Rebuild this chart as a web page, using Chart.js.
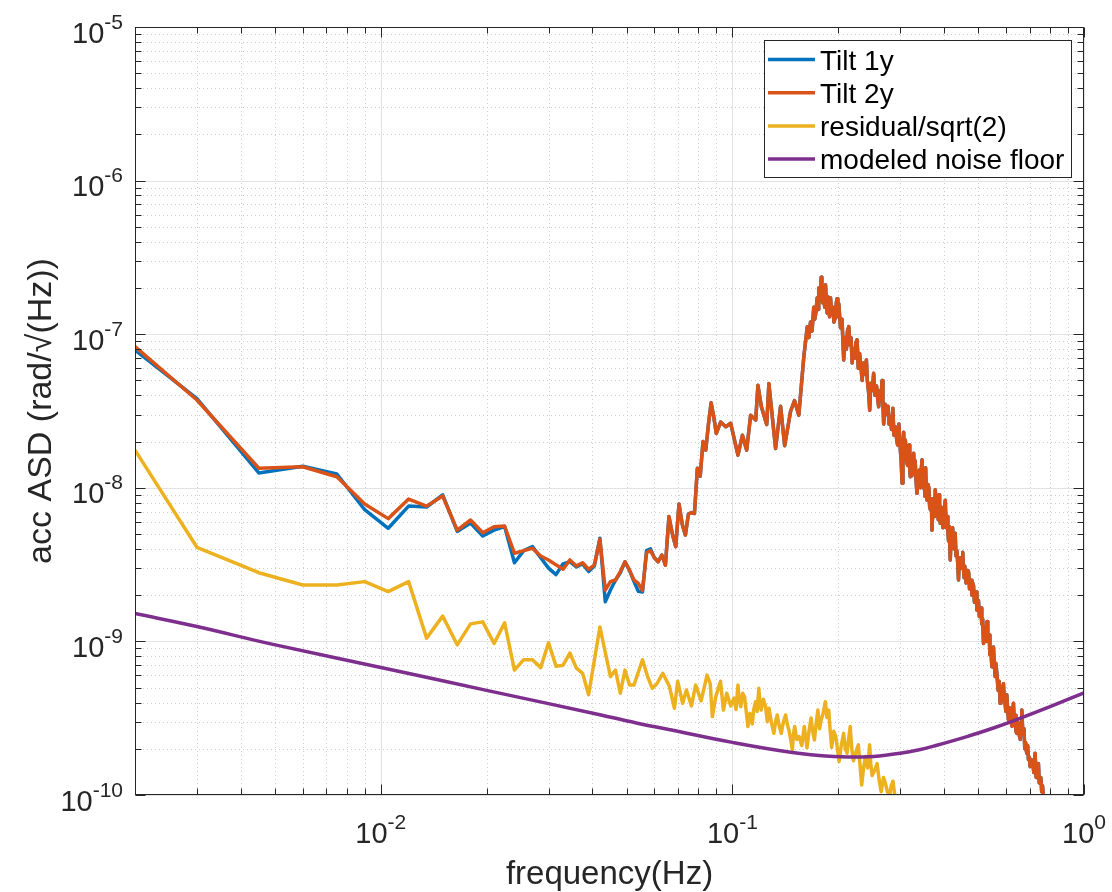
<!DOCTYPE html>
<html>
<head>
<meta charset="utf-8">
<title>Tilt ASD</title>
<script src="https://cdn.jsdelivr.net/npm/chart.js@4.4.1/dist/chart.umd.min.js"></script>
<style>
  html, body { margin: 0; padding: 0; background: #fff; }
  #wrap { width: 1112px; height: 892px; }
</style>
</head>
<body>
<div id="wrap"><canvas id="asd" width="1112" height="892"></canvas></div>
<script>
// values (Hz, rad/sqrt(Hz))
const freqTiltLow = [
  0.002, 0.003, 0.0045, 0.006, 0.0075, 0.009, 0.0105, 0.012, 0.0135, 0.015,
  0.0165, 0.018, 0.0195, 0.021, 0.0225, 0.024, 0.0255, 0.027, 0.0285, 0.030,
  0.0315, 0.033, 0.0345, 0.036, 0.0375, 0.039, 0.0405, 0.042, 0.0435, 0.045,
  0.0465, 0.048, 0.0495, 0.051, 0.0525, 0.054, 0.0555, 0.057, 0.0585, 0.060,
  0.0615, 0.063, 0.0645, 0.066, 0.0675, 0.069, 0.0705, 0.072, 0.0735, 0.075,
  0.0765, 0.078, 0.0795, 0.081, 0.0825, 0.084, 0.0855, 0.087, 0.0885, 0.090,
  0.0926, 0.0957, 0.0989, 0.1037, 0.1068, 0.1098, 0.1127, 0.1165, 0.1182, 0.1209,
  0.1252, 0.1270, 0.1327, 0.1371, 0.1408, 0.1464, 0.1502, 0.1545
];
const tilt2yLow = [
  8.3e-8, 3.73e-8, 1.34e-8, 1.37e-8, 1.18e-8, 7.85e-9, 6.3e-9, 8.45e-9, 7.6e-9, 8.85e-9,
  5.3e-9, 6.17e-9, 5.1e-9, 5.58e-9, 5.64e-9, 3.75e-9, 3.9e-9, 4.04e-9, 3.6e-9, 3.39e-9,
  3.15e-9, 2.95e-9, 3.39e-9, 3.1e-9, 3.25e-9, 2.95e-9, 3.14e-9, 4.62e-9, 2.16e-9, 2.45e-9,
  2.51e-9, 2.85e-9, 3.3e-9, 2.9e-9, 2.51e-9, 2.39e-9, 2.14e-9, 3.78e-9, 3.9e-9, 3.5e-9,
  3.3e-9, 3.65e-9, 3.14e-9, 6.5e-9, 5.0e-9, 4.14e-9, 7.85e-9, 5.8e-9, 4.93e-9, 6.75e-9,
  6.9e-9, 6.8e-9, 1.34e-8, 1.19e-8, 2.0e-8, 1.76e-8, 2.6e-8, 3.58e-8, 2.9e-8, 2.26e-8,
  2.68e-8, 2.5e-8, 2.63e-8, 1.63e-8, 2.2e-8, 1.76e-8, 2.97e-8, 2.76e-8, 4.65e-8, 3.37e-8,
  2.58e-8, 4.77e-8, 1.8e-8, 3.4e-8, 1.88e-8, 3.15e-8, 3.7e-8, 2.97e-8
];

// main resonance and its noisy roll-off
const freqTiltHigh = [
  0.1597, 0.1615, 0.1633, 0.1650, 0.1668, 0.1685, 0.1704, 0.1715, 0.1725, 0.1743,
  0.1752, 0.1760, 0.1775, 0.1789, 0.1797, 0.1805, 0.1812, 0.1820, 0.1830, 0.1840,
  0.1850, 0.1861, 0.1870, 0.1880, 0.1890, 0.1901, 0.1915, 0.1930, 0.1945, 0.1964,
  0.1975, 0.1985, 0.1995, 0.2007, 0.2030, 0.2050, 0.2073, 0.2090, 0.2110, 0.2125,
  0.2143, 0.2160, 0.2175, 0.2191, 0.2210, 0.2230, 0.2245, 0.2263, 0.2280, 0.2300,
  0.2320, 0.2339, 0.2360, 0.2380, 0.2405, 0.2420, 0.2440, 0.2458, 0.2475, 0.2500,
  0.2522, 0.2545, 0.2570, 0.2590, 0.2606, 0.2630, 0.2650, 0.2665, 0.2680, 0.2693,
  0.2720, 0.2745, 0.2770, 0.2790, 0.2813, 0.2835, 0.2860, 0.2880, 0.2907, 0.2930,
  0.2950, 0.2975, 0.3004, 0.3020, 0.3038, 0.3055, 0.3070, 0.3085, 0.3103, 0.3125,
  0.3150, 0.3165, 0.3180, 0.3195, 0.3207, 0.3225, 0.3240, 0.3260, 0.3277, 0.3295,
  0.3310, 0.3330, 0.3350, 0.3375, 0.3400, 0.3415, 0.3430, 0.3445, 0.3462, 0.3485,
  0.3510, 0.3530, 0.3545, 0.3560, 0.3577, 0.3600, 0.3620, 0.3640, 0.3660, 0.3680,
  0.3695, 0.3720, 0.3740, 0.3760, 0.3776, 0.3800, 0.3830, 0.3850, 0.3870, 0.3885,
  0.3902, 0.3925, 0.3950, 0.3970, 0.3990, 0.4010, 0.4031, 0.4055, 0.4080, 0.4100,
  0.4120, 0.4140, 0.4165, 0.4190, 0.4210, 0.4230, 0.4250, 0.4270, 0.4285, 0.4302,
  0.4325, 0.4350, 0.4375, 0.4396, 0.4420, 0.4450, 0.4480, 0.4500, 0.4520, 0.4540,
  0.4560, 0.4580, 0.4596, 0.4620, 0.4650, 0.4675, 0.4700, 0.4725, 0.4747, 0.4775,
  0.4800, 0.4825, 0.4850, 0.4880, 0.4905, 0.4930, 0.4960, 0.4985, 0.5010, 0.5040,
  0.5067, 0.5095, 0.5120, 0.5150, 0.5178, 0.5205, 0.5230, 0.5250, 0.5275, 0.5300,
  0.5325, 0.5351, 0.5375, 0.5400, 0.5430, 0.5470, 0.5500, 0.5527, 0.5560, 0.5589,
  0.5615, 0.5640, 0.5670, 0.5700, 0.5735, 0.5775, 0.5805, 0.5840, 0.5870, 0.5902,
  0.5930, 0.5960, 0.5995, 0.6030, 0.6065, 0.6097, 0.6140, 0.6180, 0.6210, 0.6240,
  0.6270, 0.6300, 0.6335, 0.6370, 0.6405, 0.6441, 0.6480, 0.6520, 0.6555, 0.6590,
  0.6620, 0.6656, 0.6700, 0.6750, 0.6785, 0.6820, 0.6850, 0.6877, 0.6915, 0.6950,
  0.6990, 0.7027, 0.7090, 0.7150, 0.7200, 0.7260, 0.7310, 0.7350, 0.7420, 0.7460,
  0.7500, 0.7540, 0.7580, 0.7620, 0.7667, 0.80, 0.90, 1.0
];
const tilt2yHigh = [
  7.2e-8, 9.0e-8, 1.12e-7, 9.5e-8, 1.2e-7, 1.05e-7, 1.5e-7, 1.25e-7, 1.35e-7, 1.73e-7,
  1.45e-7, 2.0e-7, 1.7e-7, 2.35e-7, 1.8e-7, 1.6e-7, 2.0e-7, 1.93e-7, 1.5e-7, 2.1e-7,
  1.6e-7, 1.37e-7, 1.75e-7, 1.45e-7, 1.3e-7, 1.73e-7, 1.4e-7, 1.5e-7, 1.2e-7, 1.29e-7,
  1.6e-7, 1.7e-7, 1.3e-7, 1.58e-7, 1.1e-7, 1.25e-7, 6.8e-8, 9.5e-8, 8.0e-8, 1.05e-7,
  1.12e-7, 8.5e-8, 9.5e-8, 6.5e-8, 8.0e-8, 7.0e-8, 8.8e-8, 9.2e-8, 6.0e-8, 7.5e-8,
  6.2e-8, 5.0e-8, 6.5e-8, 5.5e-8, 6.8e-8, 5.0e-8, 4.2e-8, 3.2e-8, 4.8e-8, 4.3e-8,
  5.56e-8, 4.0e-8, 4.6e-8, 3.8e-8, 3.37e-8, 4.3e-8, 4.0e-8, 5.0e-8, 3.6e-8, 2.6e-8,
  3.5e-8, 3.0e-8, 3.4e-8, 2.6e-8, 2.9e-8, 2.4e-8, 3.3e-8, 2.2e-8, 2.5e-8, 2.1e-8,
  1.9e-8, 2.6e-8, 1.76e-8, 1.5e-8, 1.07e-8, 1.7e-8, 2.3e-8, 1.6e-8, 2.05e-8, 1.5e-8,
  1.4e-8, 1.75e-8, 1.9e-8, 1.3e-8, 1.18e-8, 1.55e-8, 1.2e-8, 1.45e-8, 1.68e-8, 1.25e-8,
  1.5e-8, 1.1e-8, 9.2e-9, 1.2e-8, 1.3e-8, 1.05e-8, 1.0e-8, 1.3e-8, 1.52e-8, 1.0e-8,
  1.1e-8, 8.8e-9, 1.35e-8, 9.5e-9, 8.3e-9, 1.05e-8, 1.0e-8, 7.5e-9, 7.2e-9, 8.5e-9,
  5.3e-9, 7.8e-9, 8.0e-9, 6.5e-9, 9.7e-9, 7.0e-9, 7.5e-9, 6.2e-9, 9.0e-9, 6.8e-9,
  5.87e-9, 7.5e-9, 7.0e-9, 5.5e-9, 6.2e-9, 7.2e-9, 8.3e-9, 5.5e-9, 6.5e-9, 5.2e-9,
  4.5e-9, 5.6e-9, 3.39e-9, 4.8e-9, 4.2e-9, 5.5e-9, 4.4e-9, 4.0e-9, 4.6e-9, 5.06e-9,
  3.6e-9, 3.9e-9, 3.2e-9, 2.51e-9, 3.3e-9, 3.5e-9, 3.0e-9, 3.4e-9, 3.8e-9, 3.0e-9,
  2.6e-9, 3.1e-9, 2.92e-9, 2.4e-9, 2.5e-9, 2.9e-9, 2.8e-9, 2.2e-9, 2.27e-9, 2.5e-9,
  2.0e-9, 2.4e-9, 2.3e-9, 1.8e-9, 1.95e-9, 2.1e-9, 1.6e-9, 1.75e-9, 1.85e-9, 1.45e-9,
  1.52e-9, 1.65e-9, 1.3e-9, 1.4e-9, 9.7e-10, 1.25e-9, 1.1e-9, 1.2e-9, 1.0e-9, 1.35e-9,
  1.05e-9, 1.02e-9, 1.1e-9, 8.2e-10, 9.0e-10, 6.85e-10, 8.0e-10, 9.2e-10, 7.0e-10, 5.9e-10,
  7.2e-10, 6.5e-10, 5.6e-10, 4.8e-10, 5.5e-10, 3.95e-10, 4.8e-10, 4.5e-10, 5.0e-10, 5.3e-10,
  4.2e-10, 4.0e-10, 3.5e-10, 4.5e-10, 3.6e-10, 3.08e-10, 3.7e-10, 3.6e-10, 3.0e-10, 2.8e-10,
  3.5e-10, 3.95e-10, 3.0e-10, 3.3e-10, 2.6e-10, 2.52e-10, 3.0e-10, 2.9e-10, 2.4e-10, 2.3e-10,
  2.9e-10, 3.57e-10, 2.5e-10, 2.7e-10, 2.0e-10, 2.2e-10, 1.95e-10, 1.87e-10, 2.1e-10, 1.7e-10,
  1.75e-10, 1.53e-10, 1.7e-10, 1.6e-10, 1.4e-10, 1.87e-10, 1.3e-10, 1.45e-10, 1.6e-10, 1.2e-10,
  1.19e-10, 1.3e-10, 1.05e-10, 1.15e-10, 9.8e-11, 7.0e-11, 4.5e-11, 3.0e-11
];

// Tilt 1y sits under Tilt 2y; it only separates visibly below ~0.06 Hz
const tilt1yLow = [
  7.9e-8, 3.8e-8, 1.25e-8, 1.38e-8, 1.23e-8, 7.2e-9, 5.45e-9, 7.6e-9, 7.5e-9, 9.0e-9,
  5.2e-9, 5.9e-9, 4.85e-9, 5.3e-9, 5.6e-9, 3.25e-9, 3.9e-9, 4.14e-9, 3.5e-9, 3.0e-9,
  2.72e-9, 3.2e-9, 3.3e-9, 3.05e-9, 3.2e-9, 2.85e-9, 3.1e-9, 4.7e-9, 1.81e-9, 2.16e-9,
  2.5e-9, 2.8e-9, 3.3e-9, 2.9e-9, 2.45e-9, 2.12e-9, 2.1e-9, 3.9e-9, 4.0e-9
];

const freqResidLow = [
  0.002, 0.003, 0.0045, 0.006, 0.0075, 0.009, 0.0105, 0.012, 0.0135, 0.015,
  0.0165, 0.018, 0.0195, 0.021, 0.0225, 0.024, 0.0255, 0.027, 0.0285, 0.030,
  0.0315, 0.033, 0.0345, 0.036, 0.0375, 0.039, 0.042, 0.045, 0.0465, 0.048,
  0.0495, 0.051, 0.0525, 0.0555, 0.0574, 0.0592, 0.0610, 0.0634, 0.0662, 0.0684,
  0.0699, 0.0722, 0.0740, 0.0765, 0.0786, 0.0815, 0.0847, 0.0865, 0.0877, 0.0897,
  0.0925, 0.0943, 0.0964, 0.0989
];
const residualLow = [
  1.76e-8, 4.1e-9, 2.8e-9, 2.33e-9, 2.33e-9, 2.45e-9, 2.11e-9, 2.45e-9, 1.05e-9, 1.46e-9,
  9.5e-10, 1.3e-9, 1.34e-9, 9.7e-10, 1.32e-9, 6.5e-10, 7.6e-10, 7.6e-10, 6.75e-10, 9.8e-10,
  6.9e-10, 7.0e-10, 8.4e-10, 6.7e-10, 6.2e-10, 4.5e-10, 1.24e-9, 5.9e-10, 6.5e-10, 4.6e-10,
  6.5e-10, 5.2e-10, 5.2e-10, 7.6e-10, 5.9e-10, 4.95e-10, 5.3e-10, 6.2e-10, 5.1e-10, 3.67e-10,
  5.5e-10, 3.95e-10, 4.83e-10, 3.8e-10, 5.2e-10, 4.1e-10, 6.04e-10, 5.3e-10, 3.24e-10, 4.37e-10,
  5.5e-10, 3.57e-10, 4.6e-10, 3.8e-10
];
const freqResidHigh = [
  0.1011, 0.1024, 0.1037, 0.1046, 0.1056, 0.1070, 0.1083, 0.1095, 0.1107, 0.1122,
  0.1139, 0.1150, 0.1164, 0.1176, 0.1189, 0.1198, 0.1207, 0.1225, 0.1243, 0.1257,
  0.1271, 0.1290, 0.1312, 0.1327, 0.1341, 0.1360, 0.1377, 0.1397, 0.1417, 0.1432,
  0.1448, 0.1465, 0.1481, 0.1492, 0.1504, 0.1525, 0.1548, 0.1575, 0.1601, 0.1615,
  0.1630, 0.1652, 0.1674, 0.1692, 0.1711, 0.1730, 0.1750, 0.1770, 0.1788, 0.1812,
  0.1838, 0.1858, 0.1879, 0.1898, 0.1916, 0.1942, 0.1968, 0.1990, 0.2011, 0.2040,
  0.2072, 0.2095, 0.2118, 0.2140, 0.2163, 0.2185, 0.2210, 0.2245, 0.2282, 0.2305,
  0.2332, 0.2360, 0.2390, 0.2425, 0.2457, 0.2475, 0.2497, 0.2540, 0.2580, 0.2615,
  0.2650, 0.2690, 0.2723, 0.2760, 0.2800, 0.2830, 0.2863, 0.2895, 0.2924, 0.31,
  0.40, 1.0
];
const residualHigh = [
  4.27e-10, 3.6e-10, 5.2e-10, 4.2e-10, 3.76e-10, 4.6e-10, 4.36e-10, 3.5e-10, 2.79e-10, 3.4e-10,
  2.9e-10, 3.6e-10, 4.05e-10, 3.5e-10, 4.95e-10, 4.0e-10, 3.57e-10, 4.2e-10, 3.76e-10, 3.0e-10,
  3.67e-10, 3.0e-10, 2.52e-10, 3.0e-10, 3.32e-10, 2.8e-10, 2.52e-10, 3.0e-10, 3.32e-10, 2.9e-10,
  2.65e-10, 2.3e-10, 1.96e-10, 2.5e-10, 2.79e-10, 2.3e-10, 2.4e-10, 2.1e-10, 2.79e-10, 2.4e-10,
  2.03e-10, 2.6e-10, 3.17e-10, 2.6e-10, 2.28e-10, 2.9e-10, 3.57e-10, 2.7e-10, 3.07e-10, 3.4e-10,
  4.05e-10, 3.2e-10, 3.57e-10, 2.6e-10, 2.04e-10, 2.6e-10, 2.4e-10, 2.0e-10, 1.65e-10, 2.1e-10,
  2.52e-10, 2.0e-10, 1.87e-10, 2.3e-10, 2.79e-10, 2.0e-10, 1.67e-10, 1.9e-10, 2.12e-10, 1.6e-10,
  1.16e-10, 1.5e-10, 1.78e-10, 1.5e-10, 2.12e-10, 1.6e-10, 1.34e-10, 1.45e-10, 1.6e-10, 1.25e-10,
  1.05e-10, 1.3e-10, 1.2e-10, 1.05e-10, 9.9e-11, 1.15e-10, 1.23e-10, 1.0e-10, 9.9e-11, 8.0e-11,
  5.0e-11, 3.0e-11
];

const freqModel = [
  0.002, 0.003, 0.0049, 0.0114, 0.02, 0.0423, 0.0549, 0.0654, 0.1, 0.1464,
  0.1943, 0.2263, 0.2522, 0.3004, 0.3400, 0.3735, 0.4646, 0.55, 0.6299, 0.8006,
  1.0
];
const noiseFloor = [
  1.52e-9, 1.25e-9, 9.6e-10, 6.35e-10, 4.8e-10, 3.32e-10, 2.9e-10, 2.68e-10, 2.2e-10, 1.9e-10,
  1.78e-10, 1.77e-10, 1.78e-10, 1.87e-10, 1.97e-10, 2.08e-10, 2.4e-10, 2.72e-10, 3.04e-10, 3.76e-10,
  4.63e-10
];

const seriesNames = ['Tilt 1y', 'Tilt 2y', 'residual/sqrt(2)', 'modeled noise floor'];
const seriesColors = ['#0072BD', '#D95319', '#EDB120', '#7E2F8E'];
const xTickExps = [-2, -1, 0];
const yTickExps = [-5, -6, -7, -8, -9, -10];

(function () {
  const FONT = '"Liberation Sans", Arial, Helvetica, sans-serif';
  const INK = '#262626';

  function pts(xs, ys) {
    return xs.map((x, i) => ({ x: x, y: ys[i] }));
  }

  // 1..9 x 10^e inside [min, max]
  function logTicks(min, max) {
    const out = [];
    const e0 = Math.floor(Math.log10(min)) - 1;
    const e1 = Math.ceil(Math.log10(max)) + 1;
    for (let e = e0; e <= e1; e++) {
      for (let m = 1; m <= 9; m++) {
        const v = m * Math.pow(10, e);
        if (v >= min * 0.9999 && v <= max * 1.0001) out.push({ v: v, major: m === 1 });
      }
    }
    return out;
  }

  function line(ctx, x0, y0, x1, y1) {
    ctx.beginPath();
    ctx.moveTo(x0, y0);
    ctx.lineTo(x1, y1);
    ctx.stroke();
  }

  // "10" with a raised exponent; anchor is 'center' or 'right'
  function drawPow(ctx, exp, ax, baseY, anchor) {
    const base = '10';
    const sup = String(exp);
    ctx.font = '29px ' + FONT;
    const wb = ctx.measureText(base).width;
    ctx.font = '21px ' + FONT;
    const ws = ctx.measureText(sup).width;
    const total = wb + ws;
    const x0 = anchor === 'right' ? ax - total : ax - total / 2;
    ctx.textAlign = 'left';
    ctx.textBaseline = 'alphabetic';
    ctx.font = '29px ' + FONT;
    ctx.fillText(base, x0, baseY);
    ctx.font = '21px ' + FONT;
    ctx.fillText(sup, x0 + wb, baseY - 14);
  }

  const matlabAxes = {
    id: 'matlabAxes',
    beforeDatasetsDraw(chart) {
      const { ctx, chartArea: a, scales } = chart;
      const xs = scales.x, ys = scales.y;
      ctx.save();
      ctx.lineWidth = 1;
      const grid = (t, horiz) => {
        if (t.major) {
          ctx.setLineDash([]);
          ctx.strokeStyle = '#e2e2e2';
        } else {
          ctx.setLineDash([1, 3]);
          ctx.strokeStyle = '#cdcdcd';
        }
        if (horiz) {
          const p = Math.round(ys.getPixelForValue(t.v)) + 0.5;
          line(ctx, a.left, p, a.right, p);
        } else {
          const p = Math.round(xs.getPixelForValue(t.v)) + 0.5;
          line(ctx, p, a.top, p, a.bottom);
        }
      };
      logTicks(xs.min, xs.max).filter(t => !t.major).forEach(t => grid(t, false));
      logTicks(ys.min, ys.max).filter(t => !t.major).forEach(t => grid(t, true));
      logTicks(xs.min, xs.max).filter(t => t.major).forEach(t => grid(t, false));
      logTicks(ys.min, ys.max).filter(t => t.major).forEach(t => grid(t, true));
      ctx.restore();
    },
    afterDatasetsDraw(chart) {
      const { ctx, chartArea: a, scales } = chart;
      const xs = scales.x, ys = scales.y;
      const L = Math.round(a.left) + 0.5, R = Math.round(a.right) - 0.5;
      const T = Math.round(a.top) + 0.5, B = Math.round(a.bottom) - 0.5;
      ctx.save();
      ctx.setLineDash([]);
      ctx.strokeStyle = INK;
      ctx.lineWidth = 1;

      // ticks, inward on all four sides
      logTicks(xs.min, xs.max).forEach(t => {
        const p = Math.round(xs.getPixelForValue(t.v)) + 0.5;
        const len = t.major ? 10 : 6;
        line(ctx, p, B, p, B - len);
        line(ctx, p, T, p, T + len);
      });
      logTicks(ys.min, ys.max).forEach(t => {
        const p = Math.round(ys.getPixelForValue(t.v)) + 0.5;
        const len = t.major ? 10 : 6;
        line(ctx, L, p, L + len, p);
        line(ctx, R, p, R - len, p);
      });
      ctx.strokeRect(L, T, R - L, B - T);

      // tick labels
      ctx.fillStyle = INK;
      xTickExps.forEach(e => {
        drawPow(ctx, e, xs.getPixelForValue(Math.pow(10, e)), a.bottom + 48, 'center');
      });
      yTickExps.forEach(e => {
        drawPow(ctx, e, a.left - 12, ys.getPixelForValue(Math.pow(10, e)) + 15.5, 'right');
      });

      // axis titles
      ctx.font = '33px ' + FONT;
      ctx.textAlign = 'center';
      ctx.textBaseline = 'alphabetic';
      ctx.fillText('frequency(Hz)', (a.left + a.right) / 2, 884);
      ctx.save();
      ctx.translate(51, (a.top + a.bottom) / 2);
      ctx.rotate(-Math.PI / 2);
      ctx.font = '34px ' + FONT;
      ctx.fillText('acc ASD (rad/\u221A(Hz))', 0, 0);
      ctx.restore();

      // legend box, top right inside the axes
      const box = { x: 764.5, y: 40.5, w: 307, h: 137 };
      ctx.fillStyle = '#fff';
      ctx.fillRect(box.x, box.y, box.w, box.h);
      ctx.strokeStyle = INK;
      ctx.strokeRect(box.x, box.y, box.w, box.h);
      ctx.font = '28px ' + FONT;
      ctx.textAlign = 'left';
      chart.data.datasets.forEach((ds, i) => {
        const cy = 59.5 + i * 33.2;
        ctx.strokeStyle = ds.borderColor;
        ctx.lineWidth = 3.5;
        line(ctx, 768, cy, 815, cy);
        ctx.fillStyle = '#000';
        ctx.fillText(ds.label, 820, cy + 10);
      });
      ctx.restore();
    }
  };

  function buildChart() {
    const canvas = document.getElementById('asd');
    if (!canvas || typeof Chart === 'undefined') return;

    const freqTilt = freqTiltLow.concat(freqTiltHigh);
    const tilt2y = tilt2yLow.concat(tilt2yHigh);
    const tilt1y = tilt1yLow.concat(tilt2y.slice(tilt1yLow.length));
    const freqResid = freqResidLow.concat(freqResidHigh);
    const residual = residualLow.concat(residualHigh);

    const values = [tilt1y, tilt2y, residual, noiseFloor];
    const freqs = [freqTilt, freqTilt, freqResid, freqModel];

    const datasets = values.map((vals, i) => ({
      label: seriesNames[i],
      data: pts(freqs[i], vals),
      borderColor: seriesColors[i],
      backgroundColor: seriesColors[i],
      borderWidth: 3.5,
      showLine: true,
      pointRadius: 0,
      pointHoverRadius: 0,
      tension: i === 3 ? 0.4 : 0,
      borderJoinStyle: 'round',
      order: 4 - i // later series on top, as in the original
    }));

    new Chart(canvas.getContext('2d'), {
      type: 'scatter',
      data: { datasets },
      options: {
        responsive: false,
        animation: false,
        devicePixelRatio: 1,
        layout: { padding: { left: 135, right: 28, top: 27, bottom: 97 } },
        plugins: { legend: { display: false }, tooltip: { enabled: false } },
        scales: {
          x: { type: 'logarithmic', display: false, min: 0.002, max: 1 },
          y: { type: 'logarithmic', display: false, min: 1e-10, max: 1e-5 }
        }
      },
      plugins: [matlabAxes]
    });
  }

  window.addEventListener('DOMContentLoaded', buildChart);
})();
</script>
</body>
</html>
